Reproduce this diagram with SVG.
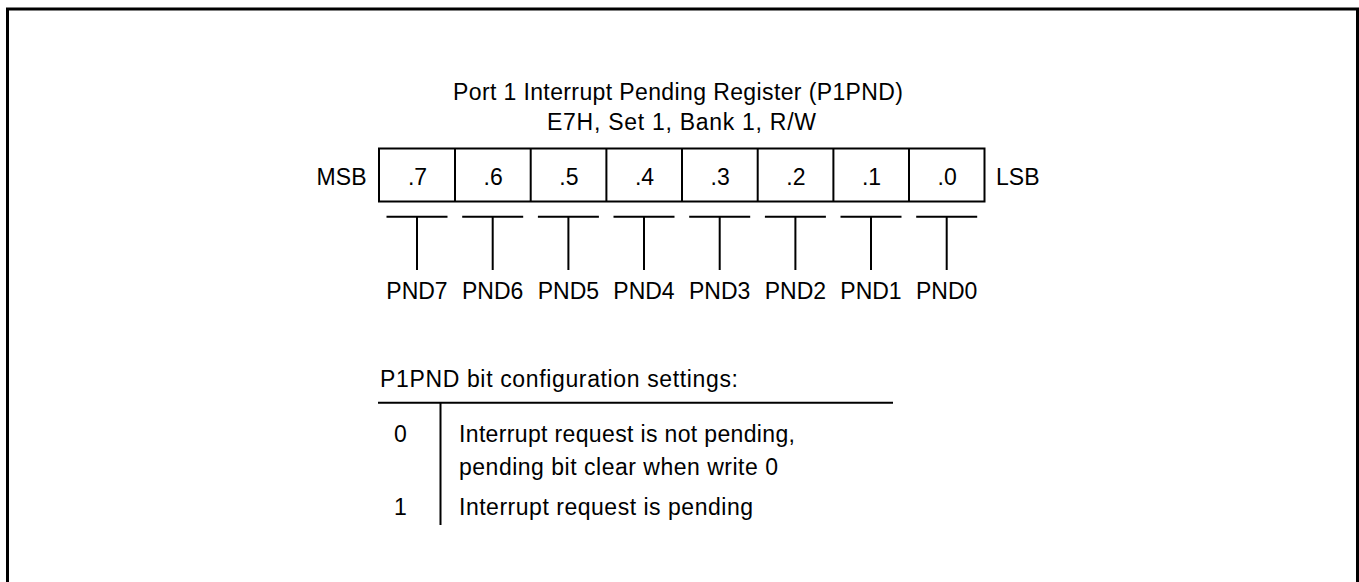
<svg xmlns="http://www.w3.org/2000/svg" width="1359" height="582" viewBox="0 0 1359 582">
<style>
text{font-family:"Liberation Sans",Arial,sans-serif;font-size:23px;fill:#000}
.c{text-anchor:middle}
.ln{stroke:#000;stroke-width:2;fill:none}
</style>
<rect x="0" y="0" width="1359" height="582" fill="#fff"/>
<rect id="frame" x="7.5" y="9" width="1350" height="600" fill="none" stroke="#000" stroke-width="3"/>
<g id="title">
<text x="453" y="100" textLength="450" lengthAdjust="spacing">Port 1 Interrupt Pending Register (P1PND)</text>
<text x="547" y="130" textLength="269" lengthAdjust="spacing">E7H, Set 1, Bank 1, R/W</text>
</g>
<g id="register">
<rect class="ln" x="379" y="148.5" width="605.5" height="53"/>
<path class="ln" d="M455 148.5V201.5M530.7 148.5V201.5M606.4 148.5V201.5M682 148.5V201.5M757.7 148.5V201.5M833.4 148.5V201.5M909 148.5V201.5"/>
<text x="316.5" y="185" textLength="50" lengthAdjust="spacing">MSB</text>
<text x="996" y="185">LSB</text>
<text class="c" x="417.5" y="185">.7</text>
<text class="c" x="493.2" y="185">.6</text>
<text class="c" x="568.9" y="185">.5</text>
<text class="c" x="644.5" y="185">.4</text>
<text class="c" x="720.2" y="185">.3</text>
<text class="c" x="795.9" y="185">.2</text>
<text class="c" x="871.5" y="185">.1</text>
<text class="c" x="947.2" y="185">.0</text>
</g>
<g id="connectors">
<path class="ln" d="M386.5 216.7h61M417 216.7V270M462.2 216.7h61M492.7 216.7V270M537.9 216.7h61M568.4 216.7V270M613.5 216.7h61M644 216.7V270M689.2 216.7h61M719.7 216.7V270M764.9 216.7h61M795.4 216.7V270M840.5 216.7h61M871 216.7V270M916.2 216.7h61M946.7 216.7V270"/>
</g>
<g id="labels">
<text class="c" x="417" y="298.5">PND7</text>
<text class="c" x="492.7" y="298.5">PND6</text>
<text class="c" x="568.4" y="298.5">PND5</text>
<text class="c" x="644" y="298.5">PND4</text>
<text class="c" x="719.7" y="298.5">PND3</text>
<text class="c" x="795.4" y="298.5">PND2</text>
<text class="c" x="871" y="298.5">PND1</text>
<text class="c" x="946.7" y="298.5">PND0</text>
</g>
<g id="settings">
<text x="380" y="387" textLength="358" lengthAdjust="spacing">P1PND bit configuration settings:</text>
<path class="ln" d="M378 402.7H893M440.5 402.7V525"/>
<text x="394" y="442">0</text>
<text x="459" y="442" textLength="336" lengthAdjust="spacing">Interrupt request is not pending,</text>
<text x="459" y="475" textLength="319" lengthAdjust="spacing">pending bit clear when write 0</text>
<text x="394" y="515">1</text>
<text x="459" y="515" textLength="294" lengthAdjust="spacing">Interrupt request is pending</text>
</g>
</svg>
